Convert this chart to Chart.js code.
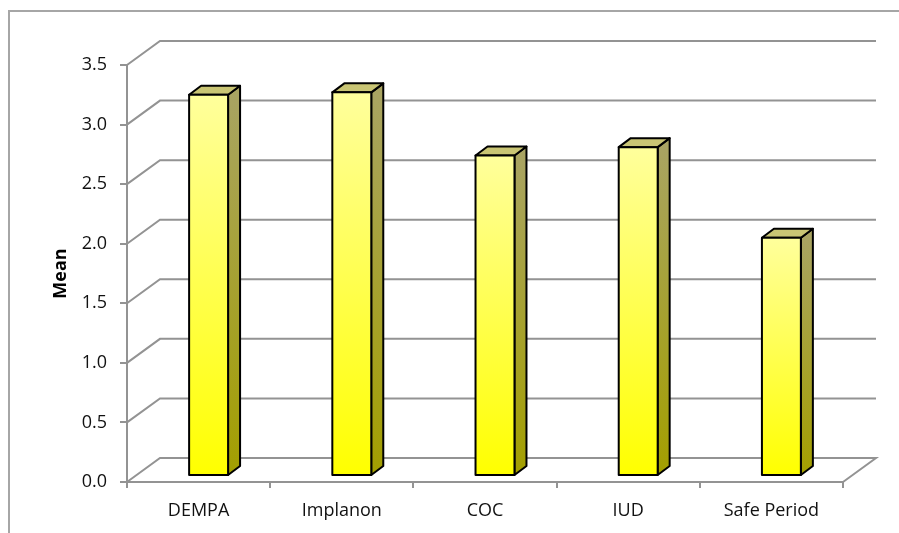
<!DOCTYPE html>
<html>
<head>
<meta charset="utf-8">
<script src="https://cdn.jsdelivr.net/npm/chart.js@4/dist/chart.umd.min.js"></script>
<style>
  html, body { margin: 0; padding: 0; background: #ffffff; }
  #wrap { width: 899px; height: 533px; }
</style>
</head>
<body>
<div id="wrap"><canvas id="chart" width="899" height="533"></canvas></div>
<script>
// Mean rating per contraceptive method
const categories = ['DEMPA', 'Implanon', 'COC', 'IUD', 'Safe Period'];
const meanValues = [3.20, 3.22, 2.69, 2.76, 2.00];
const yMin = 0;
const yMax = 3.5;
const yStep = 0.5;
const yAxisTitle = 'Mean';

// 3-D look: depth of the walls/floor and of each column
const WALL_DX = 33, WALL_DY = -24;   // back wall offset from the front plane
const BAR_DX = 10, BAR_DY = -6;     // column front face offset
const COL_DX = 12, COL_DY = -9;     // column depth
const GRID = '#939393';
const FONT = "'Open Sans', 'Liberation Sans', sans-serif";

const framePlugin = {
  id: 'frame',
  beforeDraw(chart) {
    const ctx = chart.ctx;
    ctx.save();
    ctx.strokeStyle = '#a6a6a6';
    ctx.lineWidth = 2;
    ctx.beginPath();
    ctx.moveTo(9, chart.height);
    ctx.lineTo(9, 11);
    ctx.lineTo(chart.width, 11);
    ctx.stroke();
    ctx.restore();
  }
};

const wallsPlugin = {
  id: 'walls',
  beforeDatasetsDraw(chart) {
    const ctx = chart.ctx;
    const x = chart.scales.x, y = chart.scales.y;
    const left = x.left, right = x.right;
    ctx.save();
    ctx.strokeStyle = GRID;
    ctx.lineWidth = 2;
    y.ticks.forEach(t => {
      const py = y.getPixelForValue(t.value);
      ctx.beginPath();
      ctx.moveTo(left, py);
      ctx.lineTo(left + WALL_DX, py + WALL_DY);
      ctx.lineTo(right + WALL_DX, py + WALL_DY);
      if (t.value === yMin) ctx.lineTo(right, py);
      ctx.stroke();
    });
    ctx.restore();
  },
  afterDatasetsDraw(chart) {
    const ctx = chart.ctx;
    const meta = chart.getDatasetMeta(0);
    ctx.save();
    ctx.lineJoin = 'round';
    ctx.strokeStyle = '#000000';
    ctx.lineWidth = 2;
    meta.data.forEach(bar => {
      const p = bar.getProps(['x', 'y', 'base', 'width'], true);
      const x0 = p.x - p.width / 2 + BAR_DX;
      const x1 = p.x + p.width / 2 + BAR_DX;
      const top = p.y + BAR_DY;
      const bot = p.base + BAR_DY;

      // side face
      const gs = ctx.createLinearGradient(0, top, 0, bot);
      gs.addColorStop(0, '#a9a462');
      gs.addColorStop(1, '#a39f00');
      ctx.fillStyle = gs;
      ctx.beginPath();
      ctx.moveTo(x1, top);
      ctx.lineTo(x1 + COL_DX, top + COL_DY);
      ctx.lineTo(x1 + COL_DX, bot + COL_DY);
      ctx.lineTo(x1, bot);
      ctx.closePath();
      ctx.fill();
      ctx.stroke();

      // top face
      ctx.fillStyle = '#c9c574';
      ctx.beginPath();
      ctx.moveTo(x0, top);
      ctx.lineTo(x0 + COL_DX, top + COL_DY);
      ctx.lineTo(x1 + COL_DX, top + COL_DY);
      ctx.lineTo(x1, top);
      ctx.closePath();
      ctx.fill();
      ctx.stroke();

      // front face
      const gf = ctx.createLinearGradient(0, top, 0, bot);
      gf.addColorStop(0, '#ffff9c');
      gf.addColorStop(1, '#ffff00');
      ctx.fillStyle = gf;
      ctx.beginPath();
      ctx.rect(x0, top, x1 - x0, bot - top);
      ctx.fill();
      ctx.stroke();
    });
    ctx.restore();
  }
};

new Chart(document.getElementById('chart'), {
  type: 'bar',
  data: {
    labels: categories,
    datasets: [{
      label: yAxisTitle,
      data: meanValues,
      backgroundColor: 'rgba(0,0,0,0)',
      borderWidth: 0,
      categoryPercentage: 1,
      barPercentage: 0.272
    }]
  },
  options: {
    responsive: false,
    devicePixelRatio: 1,
    animation: false,
    layout: { padding: { top: 65, right: 56, bottom: 0, left: 0 } },
    plugins: { legend: { display: false }, tooltip: { enabled: false } },
    scales: {
      x: {
        grid: { display: true, drawOnChartArea: false, tickLength: 6, color: GRID, lineWidth: 2, offset: true },
        border: { display: true, color: GRID, width: 2 },
        ticks: { color: '#111111', padding: 12, font: { family: FONT, size: 18 } },
        afterFit(scale) { scale.height = 51; }
      },
      y: {
        min: yMin,
        max: yMax,
        ticks: {
          stepSize: yStep,
          color: '#111111',
          padding: 13,
          font: { family: FONT, size: 18 },
          callback: v => Number(v).toFixed(1)
        },
        grid: { display: true, drawOnChartArea: false, tickLength: 7, color: GRID, lineWidth: 2 },
        border: { display: true, color: GRID, width: 2 },
        title: {
          display: true,
          text: yAxisTitle,
          color: '#000000',
          font: { family: FONT, size: 18, weight: 'bold' },
          padding: { top: 50, bottom: 0 }
        },
        afterFit(scale) { scale.width = 127; }
      }
    }
  },
  plugins: [framePlugin, wallsPlugin]
});
</script>
</body>
</html>
